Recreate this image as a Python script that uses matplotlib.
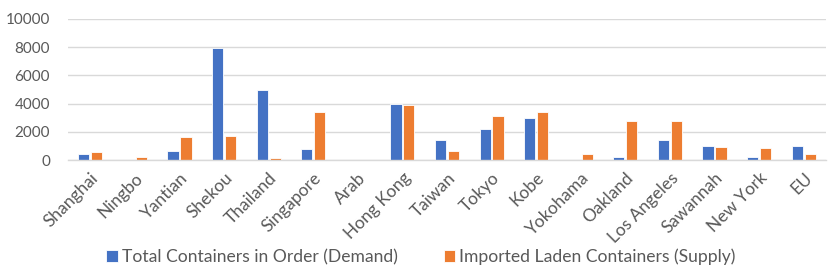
import matplotlib
matplotlib.use("Agg")
import matplotlib.pyplot as plt
import numpy as np

categories = ["Shanghai", "Ningbo", "Yantian", "Shekou", "Thailand", "Singapore", "Arab",
              "Hong Kong", "Taiwan", "Tokyo", "Kobe", "Yokohama", "Oakland", "Los Angeles",
              "Sawannah", "New York", "EU"]
demand = [420, 0, 630, 7950, 4940, 800, 0, 4000, 1400, 2210, 3000, 0, 210, 1400, 1000, 210, 1000]
supply = [590, 235, 1640, 1720, 140, 3390, 0, 3930, 620, 3120, 3400, 450, 2790, 2790, 900, 860, 430]
yticks = [0, 2000, 4000, 6000, 8000, 10000]
series_names = ["Total Containers in Order (Demand)", "Imported Laden Containers (Supply)"]

plt.rcParams['font.family'] = ['Lato', 'DejaVu Sans']
TXT = "#595959"

fig = plt.figure(figsize=(8.3, 2.72), dpi=100)
ax = fig.add_axes([68/830, 1-160/272, (826-68)/830, (160-19)/272])

x = np.arange(len(categories))
w = 0.25
ax.bar(x - 0.145, demand, w, color="#4472C4", edgecolor="white", linewidth=0.6, label=series_names[0], zorder=3)
ax.bar(x + 0.145, supply, w, color="#ED7D31", edgecolor="white", linewidth=0.6, label=series_names[1], zorder=3)

ax.set_xlim(-0.5, len(categories) - 0.5)
ax.set_ylim(0, 10000)
ax.set_yticks(yticks)
ax.set_yticklabels([str(v) for v in yticks], fontsize=11, color=TXT)
ax.set_xticks(x)
ax.set_xticklabels(categories, rotation=45, ha="right", rotation_mode="anchor", fontsize=12.5, color=TXT)
ax.tick_params(axis="both", length=0)
ax.tick_params(axis="x", pad=7)
ax.tick_params(axis="y", pad=13)
ax.grid(axis="y", color="#D9D9D9", linewidth=1, zorder=0)
for s in ["top", "right", "left"]:
    ax.spines[s].set_visible(False)
ax.spines["bottom"].set_color("#D9D9D9")
ax.spines["bottom"].set_linewidth(1)
ax.spines["bottom"].set_zorder(4)

handles, labels = ax.get_legend_handles_labels()
leg = fig.legend(handles, labels, loc="center", bbox_to_anchor=(421/830, 1-257/272), ncol=2,
                 frameon=False, fontsize=12.6, handlelength=0.65, handleheight=0.7,
                 handletextpad=0.25, columnspacing=2.6, labelcolor=TXT)

fig.savefig("out.png", dpi=100)
